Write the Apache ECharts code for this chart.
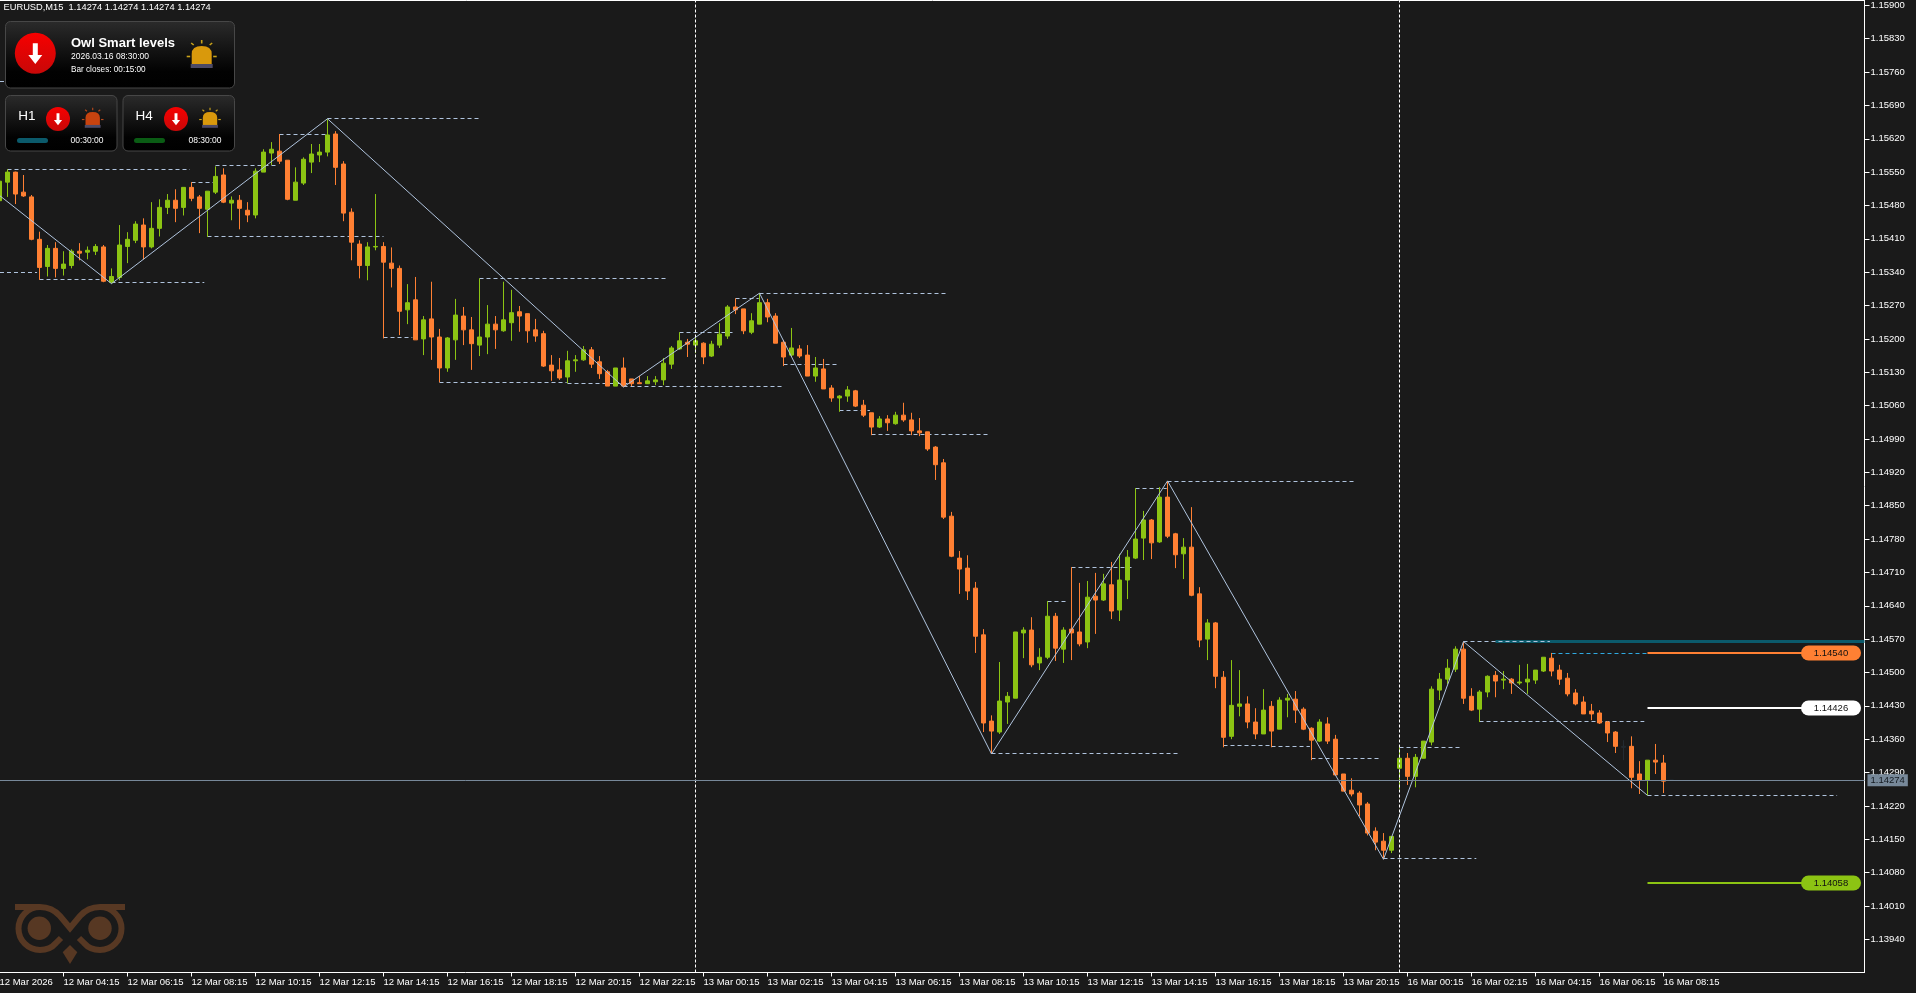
<!DOCTYPE html>
<html><head><meta charset="utf-8">
<style>html,body{margin:0;padding:0;background:#1a1a1a;overflow:hidden}#c{width:1916px;height:993px}</style>
<script src="https://cdn.jsdelivr.net/npm/echarts@6/dist/echarts.min.js"></script>
</head><body><div id="c"></div>
<script>
// candle rows: [open, close, low, high]
const thu12 = [
[1.15490,1.15531,1.15489,1.15541],[1.15529,1.15550,1.15498,1.15556],[1.15550,1.15504,1.15483,1.15551],[1.15508,1.15500,1.15498,1.15544],
[1.15498,1.15409,1.15407,1.15502],[1.15409,1.15350,1.15324,1.15425],[1.15352,1.15390,1.15331,1.15397],[1.15390,1.15348,1.15329,1.15403],
[1.15348,1.15357,1.15333,1.15384],[1.15354,1.15384,1.15348,1.15388],[1.15384,1.15380,1.15365,1.15401],[1.15382,1.15386,1.15367,1.15394],
[1.15384,1.15394,1.15376,1.15399],[1.15393,1.15321,1.15319,1.15397],[1.15319,1.15331,1.15316,1.15348],[1.15329,1.15397,1.15323,1.15439],
[1.15394,1.15409,1.15359,1.15424],[1.15407,1.15441,1.15401,1.15447],[1.15439,1.15393,1.15367,1.15453],[1.15393,1.15432,1.15390,1.15487],
[1.15432,1.15476,1.15415,1.15493],[1.15476,1.15491,1.15462,1.15504],[1.15491,1.15474,1.15445,1.15514],[1.15476,1.15518,1.15459,1.15518],
[1.15518,1.15495,1.15489,1.15529],[1.15498,1.15474,1.15422,1.15502],[1.15472,1.15510,1.15414,1.15510],[1.15508,1.15541,1.15504,1.15562],
[1.15544,1.15487,1.15485,1.15558],[1.15485,1.15491,1.15449,1.15499],[1.15491,1.15474,1.15430,1.15502],[1.15470,1.15460,1.15445,1.15487],
[1.15460,1.15552,1.15453,1.15558],[1.15550,1.15592,1.15550,1.15598],[1.15590,1.15598,1.15565,1.15613],[1.15594,1.15573,1.15567,1.15630],
[1.15575,1.15493,1.15491,1.15575],[1.15491,1.15529,1.15491,1.15560],[1.15527,1.15577,1.15523,1.15581],[1.15571,1.15588,1.15548,1.15609],
[1.15586,1.15592,1.15571,1.15609],[1.15592,1.15628,1.15583,1.15661],[1.15630,1.15560,1.15523,1.15636],[1.15567,1.15464,1.15447,1.15573],
[1.15466,1.15403,1.15365,1.15474],[1.15399,1.15354,1.15327,1.15407],[1.15354,1.15393,1.15323,1.15403],[1.15393,1.15394,1.15386,1.15504],
[1.15394,1.15361,1.15201,1.15403],[1.15359,1.15348,1.15308,1.15392],[1.15348,1.15258,1.15208,1.15354],[1.15261,1.15276,1.15231,1.15315],
[1.15282,1.15198,1.15198,1.15330],[1.15200,1.15240,1.15166,1.15248],[1.15242,1.15204,1.15156,1.15320],[1.15204,1.15139,1.15109,1.15221],
[1.15139,1.15202,1.15131,1.15204],[1.15198,1.15250,1.15156,1.15284],[1.15248,1.15219,1.15187,1.15267],[1.15219,1.15190,1.15135,1.15246],
[1.15187,1.15204,1.15164,1.15327],[1.15204,1.15231,1.15168,1.15271],[1.15231,1.15219,1.15179,1.15248],[1.15217,1.15240,1.15215,1.15320],
[1.15234,1.15255,1.15196,1.15303],[1.15257,1.15248,1.15215,1.15269],[1.15253,1.15217,1.15192,1.15253],[1.15219,1.15206,1.15194,1.15242],
[1.15211,1.15143,1.15141,1.15217],[1.15145,1.15133,1.15112,1.15166],[1.15135,1.15118,1.15114,1.15160],[1.15120,1.15154,1.15107,1.15175],
[1.15154,1.15156,1.15131,1.15166],[1.15156,1.15177,1.15154,1.15185],[1.15177,1.15147,1.15139,1.15183],[1.15152,1.15127,1.15116,1.15164],
[1.15131,1.15101,1.15101,1.15135],[1.15101,1.15139,1.15101,1.15139],[1.15139,1.15101,1.15099,1.15161],[1.15116,1.15106,1.15101,1.15116],
[1.15108,1.15106,1.15106,1.15122],[1.15106,1.15112,1.15106,1.15122],[1.15110,1.15114,1.15103,1.15122],[1.15114,1.15149,1.15103,1.15160],
[1.15147,1.15181,1.15137,1.15185],[1.15179,1.15196,1.15177,1.15214],[1.15193,1.15189,1.15162,1.15200]
];
const fri13 = [
[1.15187,1.15196,1.15170,1.15208],[1.15191,1.15162,1.15147,1.15193],[1.15164,1.15189,1.15162,1.15196],[1.15187,1.15210,1.15181,1.15233],
[1.15206,1.15267,1.15200,1.15271],[1.15267,1.15261,1.15252,1.15285],[1.15263,1.15217,1.15210,1.15263],[1.15214,1.15238,1.15210,1.15254],
[1.15231,1.15276,1.15231,1.15296],[1.15276,1.15246,1.15235,1.15284],[1.15248,1.15191,1.15191,1.15254],[1.15193,1.15162,1.15143,1.15198],
[1.15166,1.15181,1.15162,1.15223],[1.15179,1.15164,1.15160,1.15187],[1.15166,1.15122,1.15122,1.15187],[1.15122,1.15139,1.15110,1.15162],
[1.15137,1.15095,1.15095,1.15158],[1.15097,1.15076,1.15068,1.15103],[1.15076,1.15080,1.15047,1.15082],[1.15080,1.15093,1.15068,1.15101],
[1.15091,1.15059,1.15057,1.15093],[1.15061,1.15040,1.15036,1.15072],[1.15045,1.15015,1.14998,1.15045],[1.15015,1.15032,1.15013,1.15038],
[1.15032,1.15024,1.15007,1.15040],[1.15022,1.15040,1.15020,1.15047],[1.15040,1.15030,1.15026,1.15066],[1.15030,1.15007,1.14998,1.15045],
[1.15007,1.15003,1.14996,1.15034],[1.15005,1.14969,1.14965,1.15005],[1.14973,1.14936,1.14904,1.14975],[1.14940,1.14826,1.14822,1.14948],
[1.14828,1.14744,1.14742,1.14837],[1.14740,1.14717,1.14665,1.14755],[1.14719,1.14671,1.14652,1.14746],[1.14677,1.14576,1.14541,1.14690],
[1.14579,1.14394,1.14375,1.14591],[1.14398,1.14377,1.14329,1.14410],[1.14375,1.14440,1.14371,1.14522],[1.14438,1.14450,1.14392,1.14459],
[1.14446,1.14585,1.14446,1.14585],[1.14583,1.14589,1.14530,1.14595],[1.14589,1.14516,1.14511,1.14616],[1.14520,1.14532,1.14505,1.14551],
[1.14532,1.14618,1.14528,1.14650],[1.14618,1.14551,1.14524,1.14625],[1.14549,1.14589,1.14520,1.14595],[1.14591,1.14583,1.14526,1.14721],
[1.14585,1.14560,1.14555,1.14688],[1.14564,1.14658,1.14551,1.14692],[1.14660,1.14652,1.14581,1.14709],[1.14652,1.14686,1.14650,1.14707],
[1.14684,1.14629,1.14612,1.14732],[1.14631,1.14694,1.14608,1.14749],[1.14694,1.14742,1.14654,1.14757],[1.14740,1.14780,1.14738,1.14887],
[1.14782,1.14820,1.14736,1.14839],[1.14820,1.14772,1.14738,1.14822],[1.14774,1.14868,1.14772,1.14889],[1.14868,1.14786,1.14782,1.14902],
[1.14791,1.14747,1.14719,1.14793],[1.14749,1.14763,1.14696,1.14782],[1.14763,1.14662,1.14660,1.14847],[1.14665,1.14568,1.14553,1.14679],
[1.14570,1.14604,1.14526,1.14612],[1.14604,1.14492,1.14467,1.14606],[1.14490,1.14364,1.14343,1.14503],[1.14366,1.14431,1.14360,1.14526],
[1.14429,1.14434,1.14408,1.14505],[1.14434,1.14396,1.14383,1.14450],[1.14396,1.14371,1.14360,1.14425],[1.14371,1.14421,1.14371,1.14465],
[1.14429,1.14377,1.14343,1.14440],[1.14381,1.14442,1.14381,1.14448],[1.14442,1.14446,1.14406,1.14455],[1.14444,1.14421,1.14394,1.14461],
[1.14423,1.14381,1.14379,1.14427],[1.14383,1.14358,1.14316,1.14385],[1.14356,1.14396,1.14354,1.14402],[1.14392,1.14356,1.14350,1.14406],
[1.14360,1.14285,1.14285,1.14369],[1.14287,1.14251,1.14251,1.14287],[1.14253,1.14245,1.14240,1.14278],[1.14247,1.14222,1.14198,1.14251],
[1.14224,1.14163,1.14158,1.14228],[1.14167,1.14144,1.14127,1.14175],[1.14146,1.14127,1.14108,1.14163],[1.14127,1.14156,1.14121,1.14156]
];
const mon16 = [
[1.14299,1.14320,1.14255,1.14343],[1.14320,1.14282,1.14264,1.14331],[1.14282,1.14322,1.14259,1.14329],[1.14320,1.14356,1.14320,1.14356],
[1.14354,1.14465,1.14347,1.14471],[1.14463,1.14486,1.14442,1.14499],[1.14486,1.14509,1.14476,1.14528],[1.14507,1.14549,1.14501,1.14555],
[1.14549,1.14446,1.14434,1.14564],[1.14450,1.14421,1.14419,1.14467],[1.14423,1.14459,1.14396,1.14463],[1.14459,1.14492,1.14448,1.14494],
[1.14494,1.14482,1.14448,1.14503],[1.14484,1.14486,1.14465,1.14503],[1.14486,1.14478,1.14455,1.14488],[1.14478,1.14480,1.14474,1.14516],
[1.14480,1.14486,1.14455,1.14518],[1.14484,1.14505,1.14476,1.14505],[1.14503,1.14532,1.14501,1.14532],[1.14530,1.14503,1.14492,1.14541],
[1.14505,1.14486,1.14474,1.14516],[1.14488,1.14455,1.14450,1.14499],[1.14457,1.14434,1.14431,1.14465],[1.14438,1.14413,1.14413,1.14450],
[1.14419,1.14413,1.14400,1.14434],[1.14415,1.14394,1.14392,1.14421],[1.14396,1.14373,1.14354,1.14398],[1.14375,1.14345,1.14331,1.14377],
[1.14345,1.14343,1.14316,1.14358],[1.14345,1.14280,1.14257,1.14366],[1.14287,1.14274,1.14245,1.14314],[1.14274,1.14316,1.14242,1.14316],
[1.14316,1.14312,1.14287,1.14350],[1.14310,1.14272,1.14247,1.14327],[1.14274,1.14274,1.14274,1.14274]
];
const dimBars = [203, 209];
const lastPrice = 1.14274;
const daySeparators = [87, 175];

const priceTicks = [1.159,1.1583,1.1576,1.1569,1.1562,1.1555,1.1548,1.1541,1.1534,1.1527,1.152,1.1513,1.1506,1.1499,1.1492,1.1485,1.1478,1.1471,1.1464,1.1457,1.145,1.1443,1.1436,1.1429,1.1422,1.1415,1.1408,1.1401,1.1394];
const timeTickBars = [0,8,16,24,32,40,48,56,64,72,80,88,96,104,112,120,128,136,144,152,160,168,176,184,192,200,208];
const timeTickLabels = ['12 Mar 2026','12 Mar 04:15','12 Mar 06:15','12 Mar 08:15','12 Mar 10:15','12 Mar 12:15','12 Mar 14:15','12 Mar 16:15','12 Mar 18:15','12 Mar 20:15','12 Mar 22:15','13 Mar 00:15','13 Mar 02:15','13 Mar 04:15','13 Mar 06:15','13 Mar 08:15','13 Mar 10:15','13 Mar 12:15','13 Mar 14:15','13 Mar 16:15','13 Mar 18:15','13 Mar 20:15','16 Mar 00:15','16 Mar 02:15','16 Mar 04:15','16 Mar 06:15','16 Mar 08:15'];

// zigzag pivots: [bar, price]
const zigzag = [[0,1.15501],[14,1.15316],[41,1.15662],[78,1.15099],[95,1.15296],[124,1.14329],[146,1.14902],[173,1.14108],[183,1.14565],[206,1.14242]];
// dashed levels: [price, fromBar, toBar]
const dashedLevels = [
[1.15741,0.06,0.7],[1.15556,1,23.8],[1.15340,0.06,4.7],[1.15325,5,12.9],[1.15319,14,25.6],[1.15529,24,26.7],[1.15563,27,34.8],
[1.15415,26,48],[1.15629,35,41],[1.15663,41,60],[1.15203,48,51.6],[1.15327,60,83.6],[1.15109,55,70.9],[1.15107,71,78.8],
[1.15101,78,97.8],[1.15214,85,92],[1.15285,92,94.9],[1.15296,95,118.6],[1.15147,98,104.9],[1.15050,105,108.8],[1.15000,109,123.6],
[1.14330,124,147.6],[1.14649,131,133.6],[1.14721,134,141.8],[1.14886,142,145.9],[1.14901,146,169.5],[1.14347,153,158.9],[1.14345,159,163.8],
[1.14320,164,172.5],[1.14110,173,184.6],[1.14343,175,182.8],[1.14398,185,205.6],[1.14242,206,229.7]
];
const signalLevel = [[1.14540,194,205.9]];
// drawn after the teal band
const peakLevel = [[1.14565,183,193.8]];
const tealBand = [[1.14565,187,233.125]];
const smartPrices = [1.14540,1.14426,1.14058];
const smartColors = ['#ff8033','#ffffff','#8cc413'];
const smartFrom = 206, smartPill = 228.94;

const FONT = '"Liberation Sans", Arial, sans-serif';
const UP = '#8cc413', DOWN = '#ff8033', DIM = '#242b31', ZZ = '#b0c4de';

const allRows = thu12.concat(fri13, mon16);
const candleData = allRows.map((r, i) => {
  const value = [i, r[0], r[1], r[2], r[3]];
  if (dimBars.includes(i)) return {value, itemStyle:{color:DIM,color0:DIM,borderColor:DIM,borderColor0:DIM,borderColorDoji:DIM}};
  return {value};
});

function levelSeries(name, rows, color, width, dash) {
  return {
    name, type:'custom', data:rows, encode:{x:[1,2], y:0}, silent:true,
    renderItem(params, api) {
      const a = api.coord([api.value(1), api.value(0)]);
      const b = api.coord([api.value(2), api.value(0)]);
      const y = width % 2 ? Math.round(a[1]-0.5)+0.5 : Math.round(a[1]);
      return {type:'line', shape:{x1:a[0], y1:y, x2:b[0], y2:y},
        style:{stroke:color, lineWidth:width, lineDash:dash||null, fill:null}};
    }
  };
}

// dashboard decoration shapes
echarts.graphic.registerShape('bellDome', echarts.graphic.extendShape({
  shape:{cx:0,cy:0,k:1},
  buildPath(ctx,s){const {cx,cy,k}=s;
    ctx.moveTo(cx-10*k,cy+11*k);ctx.lineTo(cx-10*k,cy+1*k);
    ctx.quadraticCurveTo(cx-10*k,cy-7*k,cx,cy-7*k);ctx.quadraticCurveTo(cx+10*k,cy-7*k,cx+10*k,cy+1*k);
    ctx.lineTo(cx+10*k,cy+11*k);ctx.closePath();}
}));
echarts.graphic.registerShape('owlOutline', echarts.graphic.extendShape({
  shape:{},
  buildPath(ctx){
    ctx.moveTo(15,907);ctx.lineTo(40,907);ctx.quadraticCurveTo(52,907,60,916);ctx.lineTo(70,928);ctx.lineTo(80,916);ctx.quadraticCurveTo(88,907,100,907);ctx.lineTo(125,907);
    ctx.moveTo(40,907);ctx.arc(40,928.5,21.5,-Math.PI/2,Math.PI/2,true);ctx.quadraticCurveTo(50,950,56,943);ctx.lineTo(61,938);
    ctx.moveTo(100,907);ctx.arc(100,928.5,21.5,-Math.PI/2,Math.PI/2,false);ctx.quadraticCurveTo(90,950,84,943);ctx.lineTo(79,938);
  }
}));
function panel(x,y,w,h){
  return {type:'rect', z:50, shape:{x,y,width:w,height:h,r:5},
    style:{fill:new echarts.graphic.LinearGradient(0,0,0,1,[{offset:0,color:'#2b2b2b'},{offset:0.75,color:'#020202'},{offset:1,color:'#000'}]),stroke:'#474747',lineWidth:1}};
}
function arrowBadge(cx,cy,r){
  const k=r/20.5;
  return [
    {type:'circle', z:51, shape:{cx,cy,r}, style:{fill:new echarts.graphic.LinearGradient(0,0,0,1,[{offset:0,color:'#f70000'},{offset:1,color:'#c80808'}])}},
    {type:'polygon', z:52, shape:{points:[[cx-2.5*k,cy-10*k],[cx+2.5*k,cy-10*k],[cx+2.5*k,cy+1.7*k],[cx+7*k,cy+1.7*k],[cx,cy+10.7*k],[cx-7*k,cy+1.7*k],[cx-2.5*k,cy+1.7*k]]}, style:{fill:'#fff'}}
  ];
}
function bell(cx,cy,k,fill,ray){
  const ln=(a,b,c,d)=>({type:'line',z:51,shape:{x1:cx+a*k,y1:cy+b*k,x2:cx+c*k,y2:cy+d*k},style:{stroke:ray,lineWidth:1.6*k}});
  return [
    {type:'bellDome', z:51, shape:{cx,cy,k}, style:{fill}},
    {type:'rect', z:51, shape:{x:cx-11*k,y:cy+11*k,width:22*k,height:4*k}, style:{fill:'#4c4a66'}},
    ln(0,-13,0,-9.5), ln(-10.5,-10,-8,-8), ln(10.5,-10,8,-8), ln(-15,3.5,-11.5,3.5), ln(11.5,3.5,15,3.5)
  ];
}
function txt(text,x,y,font,fill,align){
  return {type:'text', z:53, x, y, style:{text, font, fill:fill||'#fff', textAlign:align||'left', textVerticalAlign:'middle'}};
}
const LOGO='#573823';
const dash = [
  panel(5.5,21.5,229,66.5), panel(5.5,95.5,111.5,55.5), panel(123,95.5,111.5,55.5),
  ...arrowBadge(35.3,53.3,20.5), ...arrowBadge(58,119,12), ...arrowBadge(176,119,12),
  ...bell(201.7,53,1,'#d9990c','#c9a21a'), ...bell(92.7,117,0.72,'#c8430f','#b5481c'), ...bell(210,117,0.72,'#d9990c','#c9a21a'),
  txt('Owl Smart levels',71,43.5,'bold 13px '+FONT), txt('2026.03.16 08:30:00',71,57,'8.5px '+FONT), txt('Bar closes: 00:15:00',71,70,'8.2px '+FONT),
  txt('H1',18.3,116,'13.5px '+FONT), txt('H4',135.5,116,'13.5px '+FONT),
  {type:'rect',z:51,shape:{x:17,y:138,width:31,height:5,r:2.5},style:{fill:'#0b5a6b'}},
  {type:'rect',z:51,shape:{x:134,y:138,width:31,height:5,r:2.5},style:{fill:'#0a5c14'}},
  txt('00:30:00',87,141,'8.5px '+FONT,'#fff','center'), txt('08:30:00',205,141,'8.5px '+FONT,'#fff','center'),
  // owl logo
  {type:'owlOutline',z:5,shape:{},style:{fill:null,stroke:LOGO,lineWidth:6}},
  {type:'circle',z:5,shape:{cx:39.3,cy:928.3,r:11.7},style:{fill:LOGO}},
  {type:'circle',z:5,shape:{cx:100,cy:928.3,r:11.7},style:{fill:LOGO}},
  {type:'polygon',z:5,shape:{points:[[70,945],[77.3,952.3],[70,964],[62.7,952.3]]},style:{fill:LOGO}},
  {type:'line',z:5,shape:{x1:0,y1:0.5,x2:1864.5,y2:0.5},style:{stroke:'#fff',lineWidth:1}}
];

const chart = echarts.init(document.getElementById('c'), null, {renderer:'canvas', width:1916, height:993});
chart.setOption({
  animation:false,
  backgroundColor:'#1a1a1a',
  title:{text:'EURUSD,M15  1.14274 1.14274 1.14274 1.14274', left:3.5, top:3, padding:0, textStyle:{color:'#fff', fontSize:9.3, fontWeight:'normal', fontFamily:FONT}},
  grid:{left:-0.5, top:0, width:1865, height:972.5, containLabel:false, outerBoundsMode:'none'},
  xAxis:{type:'value', min:0, max:233.125, splitLine:{show:false},
    axisLine:{show:true, onZero:false, lineStyle:{color:'#fff', width:1}},
    axisTick:{show:true, length:4, lineStyle:{color:'#fff'}, customValues:timeTickBars},
    axisLabel:{color:'#fff', fontSize:9.5, fontFamily:FONT, margin:5, align:'left', customValues:timeTickBars,
      showMinLabel:true, showMaxLabel:true, hideOverlap:false,
      formatter:v=>timeTickLabels[timeTickBars.indexOf(v)]}},
  yAxis:{type:'value', position:'right', min:1.138704, max:1.159112, splitLine:{show:false}, scale:true,
    axisLine:{show:true, onZero:false, lineStyle:{color:'#fff', width:1}},
    axisTick:{show:true, length:5, lineStyle:{color:'#fff'}, customValues:priceTicks},
    axisLabel:{color:'#fff', fontSize:9.5, fontFamily:FONT, margin:6, customValues:priceTicks, hideOverlap:false, formatter:v=>v.toFixed(5)}},
  graphic:{elements:dash},
  series:[
    levelSeries('levels', dashedLevels, ZZ, 1, [4,3]),
    levelSeries('tealBand', tealBand, '#0b5a6b', 3),
    levelSeries('peakLevel', peakLevel, ZZ, 1, [4,3]),
    levelSeries('signalLevel', signalLevel, '#2fa9e0', 1, [4,3]),
    {name:'EURUSD', type:'candlestick', data:candleData, encode:{x:0,y:[1,2,3,4]}, barWidth:4, clip:true, silent:true,
      itemStyle:{color:UP,color0:DOWN,borderColor:UP,borderColor0:DOWN,borderColorDoji:UP,borderWidth:1},
      markLine:{symbol:'none', silent:true, animation:false, precision:5,
        data:[
          {xAxis:daySeparators[0], lineStyle:{color:'#fff',type:[3,2],width:1}, label:{show:false}},
          {xAxis:daySeparators[1], lineStyle:{color:'#fff',type:[3,2],width:1}, label:{show:false}},
          {yAxis:lastPrice, lineStyle:{color:'#778899',type:'solid',width:1},
           label:{show:true, position:'end', distance:3, formatter:lastPrice.toFixed(5), color:'#141a20', backgroundColor:'#778899', fontSize:9.5, fontFamily:FONT, padding:[1,3,1,3]}}
        ]}},
    {name:'zigzag', type:'line', data:zigzag, showSymbol:false, silent:true, lineStyle:{color:ZZ,width:1}, z:3},
    {name:'smartLevels', type:'custom', silent:true, z:4,
      data:smartPrices.map((p,i)=>[p,smartFrom,smartPill,i]), encode:{x:[1,2],y:0},
      renderItem(params, api){
        const a=api.coord([api.value(1),api.value(0)]), b=api.coord([api.value(2),api.value(0)]);
        const i=api.value(3), y=Math.round(a[1]), c=smartColors[i];
        return {type:'group', children:[
          {type:'line',shape:{x1:a[0],y1:y,x2:b[0],y2:y},style:{stroke:c,lineWidth:2,fill:null}},
          {type:'rect',shape:{x:b[0]-30,y:y-7.5,width:60,height:15,r:7.5},style:{fill:c}},
          {type:'text',x:b[0],y:y,style:{text:smartPrices[i].toFixed(5),fill:'#111',font:'9.5px '+FONT,textAlign:'center',textVerticalAlign:'middle'}}
        ]};
      }}
  ]
});
</script></body></html>
